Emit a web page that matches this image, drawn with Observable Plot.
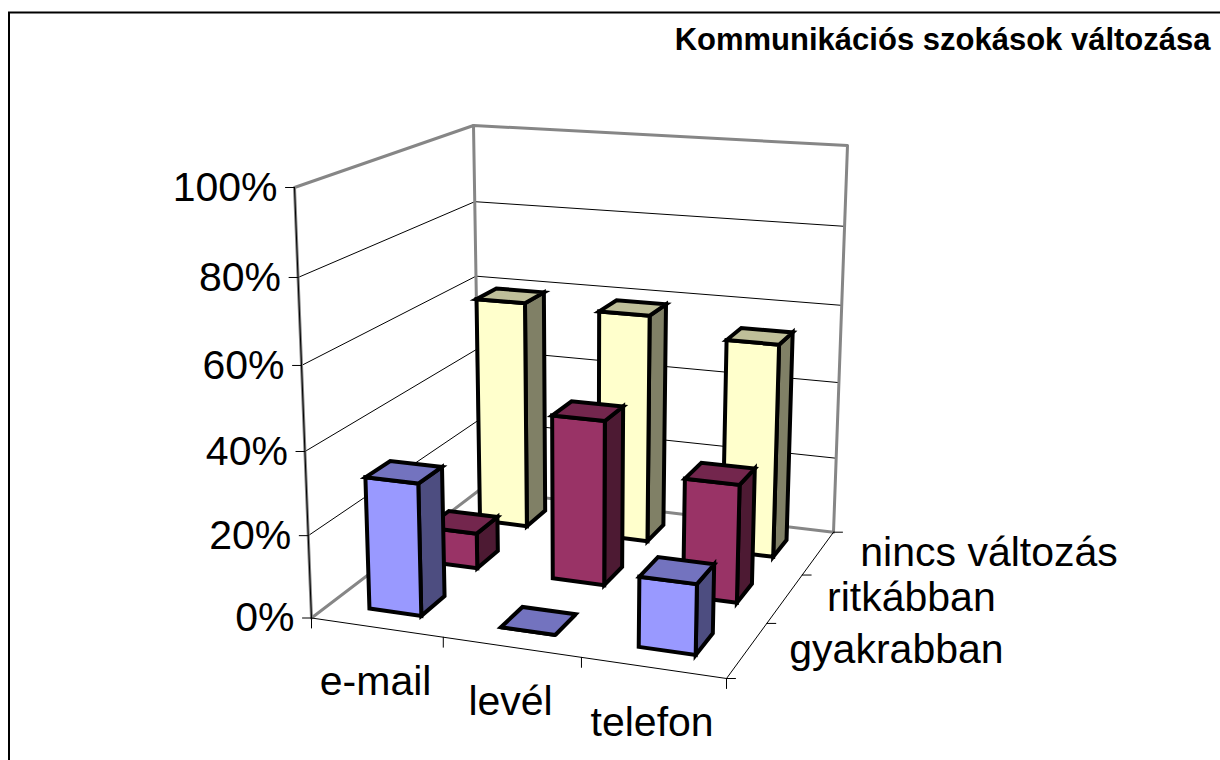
<!DOCTYPE html>
<html>
<head>
<meta charset="utf-8">
<script src="https://cdn.jsdelivr.net/npm/d3@7"></script>
<script src="https://cdn.jsdelivr.net/npm/@observablehq/plot@0.6"></script>
<style>html,body{margin:0;padding:0;background:#fff;overflow:hidden}svg{display:block}</style>
</head>
<body>
<div id="chart"></div>
<script>
// ---- data ----
const title = "Kommunikációs szokások változása";
const categories = ["e-mail", "levél", "telefon"];
const series = ["gyakrabban", "ritkábban", "nincs változás"];
const gyakrabban = [32, 0, 16.5];
const ritkabban = [9, 41, 29];
const nincsValtozas = [59.5, 59, 54.5];
const valueTicks = [0, 20, 40, 60, 80, 100];
const faceColors = [
  {front: "#9999ff", top: "#7373bf", side: "#4d4d80"},
  {front: "#993366", top: "#73264d", side: "#4d1a33"},
  {front: "#ffffcc", top: "#bfbf99", side: "#808066"}
];

// ---- 3D box seen in perspective: corners of the floor and the ceiling ----
const floorQuad = [[311, 617.5], [726, 678], [833, 531.7], [479, 489.5]];
const topQuad = [[294, 187], [736, 216], [847, 145], [473, 125]];
const heightPerspective = 1.057;
const barFraction = 0.4;

function homography(q) {
  const [[x0, y0], [x1, y1], [x2, y2], [x3, y3]] = q;
  const dx1 = x1 - x2, dx2 = x3 - x2, sx = x0 - x1 + x2 - x3;
  const dy1 = y1 - y2, dy2 = y3 - y2, sy = y0 - y1 + y2 - y3;
  const den = dx1 * dy2 - dx2 * dy1;
  const g = (sx * dy2 - dx2 * sy) / den, h = (dx1 * sy - sx * dy1) / den;
  const a = x1 - x0 + g * x1, b = x3 - x0 + h * x3;
  const d = y1 - y0 + g * y1, e = y3 - y0 + h * y3;
  return (u, v) => {
    const w = g * u + h * v + 1;
    return [(a * u + b * v + x0) / w, (d * u + e * v + y0) / w];
  };
}
const floorH = homography(floorQuad), topH = homography(topQuad);
// u: along the categories, v: into the depth (series), p: percent
function project(u, v, p) {
  const w = p / 100;
  const t = w / (w + (1 - w) * heightPerspective);
  const B = floorH(u, v), T = topH(u, v);
  return [B[0] + (T[0] - B[0]) * t, B[1] + (T[1] - B[1]) * t];
}

// ---- build tables for the marks ----
const polyRows = [];
function poly(rows, id, pts, extra) {
  pts.forEach(([x, y]) => rows.push({id, x, y, ...extra}));
}
const values = [gyakrabban, ritkabban, nincsValtozas];
const pad = (1 - barFraction) / 2;
for (let j = series.length - 1; j >= 0; j--) {
  const v0 = (j + pad) / series.length, v1 = (j + 1 - pad) / series.length;
  categories.forEach((c, i) => {
    const u0 = (i + pad) / categories.length, u1 = (i + 1 - pad) / categories.length;
    const p = values[j][i], col = faceColors[j];
    poly(polyRows, `${j}-${i}-side`, [project(u1, v0, 0), project(u1, v1, 0), project(u1, v1, p), project(u1, v0, p)], {fill: col.side});
    poly(polyRows, `${j}-${i}-front`, [project(u0, v0, 0), project(u1, v0, 0), project(u1, v0, p), project(u0, v0, p)], {fill: col.front});
    poly(polyRows, `${j}-${i}-top`, [project(u0, v0, p), project(u1, v0, p), project(u1, v1, p), project(u0, v1, p)], {fill: col.top});
  });
}

const thinRows = [], wallRows = [], axisRows = [];
valueTicks.filter(t => t > 0 && t < 100).forEach(t => {
  poly(thinRows, "grid" + t, [project(0, 0, t), project(0, 1, t), project(1, 1, t)], {});
});
poly(wallRows, "wall-outline", [project(0, 0, 0), project(0, 1, 0), project(1, 1, 0), project(1, 1, 100), project(0, 1, 100), project(0, 0, 100), project(0, 0, 0)], {});
poly(wallRows, "wall-back", [project(0, 1, 0), project(0, 1, 100)], {});
// value axis, front edges, tick marks
poly(axisRows, "axis-value", [project(0, 0, 0), project(0, 0, 100)], {});
poly(axisRows, "axis-cat", [project(0, 0, 0), project(1, 0, 0)], {});
poly(axisRows, "axis-ser", [project(1, 0, 0), project(1, 1, 0)], {});
valueTicks.forEach(t => {
  const [x, y] = project(0, 0, t);
  poly(axisRows, "vt" + t, [[x, y], [x - 9, y]], {});
});
d3.range(categories.length + 1).forEach(i => {
  const [x, y] = project(i / categories.length, 0, 0);
  poly(axisRows, "ct" + i, [[x, y], [x, y + 10]], {});
});
d3.range(series.length + 1).forEach(j => {
  const [x, y] = project(1, j / series.length, 0);
  poly(axisRows, "st" + j, [[x, y], [x + 9, y]], {});
});

const valueLabels = valueTicks.map(t => {
  const [x, y] = project(0, 0, t);
  return {x, y, label: t + "%"};
});
const catLabels = categories.map((label, i) => {
  const [x, y] = project((i + 0.5) / categories.length, 0, 0);
  return {x, y, label};
});
const serLabels = series.map((label, j) => {
  const [x, y] = project(1, (j + 0.5) / series.length, 0);
  return {x, y, label};
});
const frameRows = [];
poly(frameRows, "frame", [[8.5, 760], [8.5, 12], [1220, 12]], {});

const font = "Liberation Sans, Arial, sans-serif";
const chart = Plot.plot({
  width: 1220,
  height: 760,
  margin: 0,
  x: {domain: [0, 1220], range: [0, 1220], axis: null},
  y: {domain: [0, 760], range: [0, 760], axis: null},
  color: {type: "identity"},
  style: {background: "#fff", fontFamily: font},
  marks: [
    Plot.line(frameRows, {x: "x", y: "y", z: "id", stroke: "black", strokeWidth: 2, strokeLinejoin: "miter", strokeMiterlimit: 4}),
    Plot.line(thinRows, {x: "x", y: "y", z: "id", stroke: "black", strokeWidth: 1}),
    Plot.line(wallRows, {x: "x", y: "y", z: "id", stroke: "#868686", strokeWidth: 3}),
    Plot.line(axisRows, {x: "x", y: "y", z: "id", stroke: "black", strokeWidth: 1}),
    Plot.line(polyRows, {x: "x", y: "y", z: "id", fill: "fill", stroke: "black", strokeWidth: 4, curve: "linear-closed", strokeLinejoin: "miter", strokeMiterlimit: 4}),
    Plot.text(valueLabels, {x: "x", y: "y", text: "label", textAnchor: "end", dx: -17, fontSize: 41, fill: "black"}),
    Plot.text(catLabels, {x: "x", y: "y", text: "label", textAnchor: "middle", dx: -1, dy: 68, lineAnchor: "bottom", fontSize: 41, fill: "black"}),
    Plot.text(serLabels, {x: "x", y: "y", text: "label", textAnchor: "start", dx: 42, dy: 13, lineAnchor: "bottom", fontSize: 41, fill: "black"}),
    Plot.text([title], {x: () => 1210, y: () => 49, text: d => d, textAnchor: "end", lineAnchor: "bottom", fontSize: 31, fontWeight: "bold", fill: "black"})
  ]
});
document.getElementById("chart").append(chart);
</script>
</body>
</html>
